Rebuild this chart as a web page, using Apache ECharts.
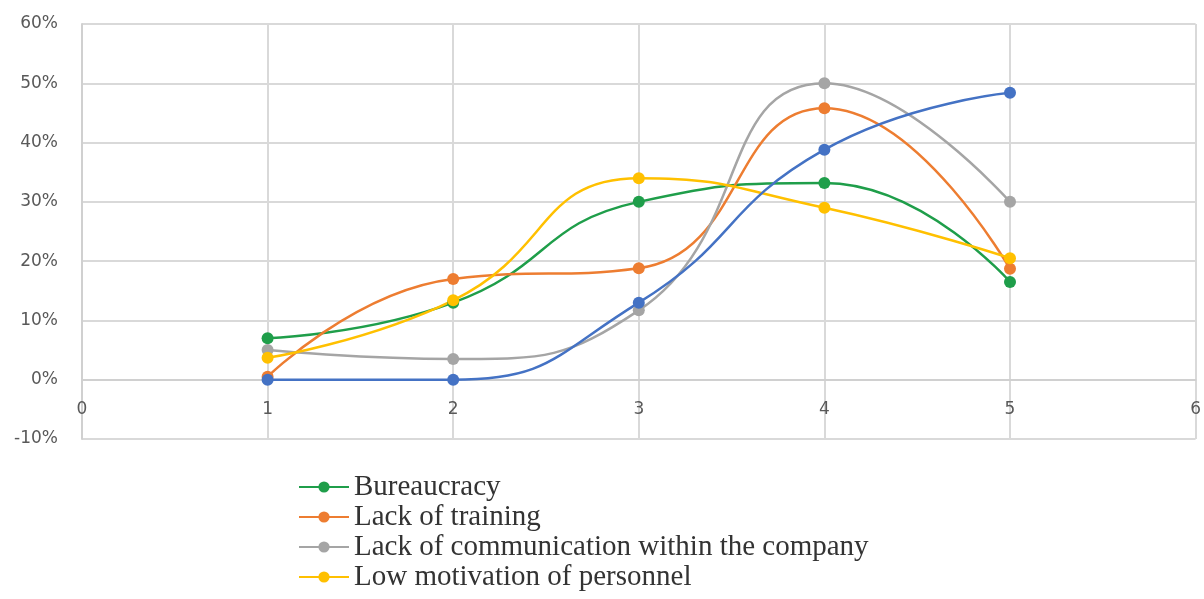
<!DOCTYPE html>
<html>
<head>
<meta charset="utf-8">
<script src="https://cdn.jsdelivr.net/npm/echarts@6/dist/echarts.min.js"></script>
<style>
	html, body { margin: 0; padding: 0; background: #fff; }
	#chart { width: 1204px; height: 599px; }
</style>
</head>
<body>
<div id="chart"></div>
<script>
// x positions of the points
var xs = [1, 2, 3, 4, 5];
// series values (fractions)
var bureaucracy = [0.07, 0.13, 0.30, 0.332, 0.165];
var lackTraining = [0.005, 0.17, 0.188, 0.458, 0.187];
var lackCommunication = [0.05, 0.035, 0.117, 0.50, 0.30];
var lowMotivation = [0.037, 0.134, 0.34, 0.29, 0.205];
var unnamedBlue = [0.0, 0.0, 0.13, 0.388, 0.484];

var names = ['Bureaucracy', 'Lack of training', 'Lack of communication within the company', 'Low motivation of personnel'];
var colors = ['#1f9e4a', '#ed7d31', '#a5a5a5', '#ffc000', '#4472c4'];

var gridTop = 24, gridBottom = 160, chartH = 599;
var yMin = -0.1, yMax = 0.6;
// shift of the x axis from the bottom edge up to the 0% line
var zeroShift = (chartH - gridTop - gridBottom) * (0 - yMin) / (yMax - yMin);

function pairs(vals) {
	var out = [];
	for (var i = 0; i < xs.length; i++) {
		out.push([xs[i], vals[i]]);
	}
	return out;
}

function lineSeries(name, vals, color) {
	return {
		name : name,
		type : 'line',
		smooth : 0.5,
		symbol : 'circle',
		symbolSize : 12,
		data : pairs(vals),
		lineStyle : { color : color, width : 2.5 },
		itemStyle : { color : color }
	};
}

var chart = echarts.init(document.getElementById('chart'));
var option = {
	backgroundColor : '#fff',
	animation : false,
	grid : {
		left : 82,
		right : 6,
		top : gridTop,
		bottom : gridBottom
	},
	legend : {
		orient : 'vertical',
		left : 298,
		top : 472,
		padding : 0,
		itemWidth : 50,
		itemHeight : 14,
		itemGap : 0,
		data : names,
		textStyle : {
			fontFamily : 'Liberation Serif',
			fontSize : 29,
			lineHeight : 30,
			color : '#333'
		}
	},
	xAxis : {
		type : 'value',
		min : 0,
		max : 6,
		interval : 1,
		offset : -zeroShift,
		axisLine : { show : true, onZero : false, lineStyle : { color : '#d0d0d0', width : 2 } },
		axisTick : { show : false },
		axisLabel : { color : '#595959', fontSize : 17, margin : 21, fontFamily : 'DejaVu Sans' },
		splitLine : { show : true, lineStyle : { color : '#d9d9d9', width : 2 } }
	},
	yAxis : {
		type : 'value',
		min : yMin,
		max : yMax,
		interval : 0.1,
		axisLine : { show : true, onZero : false, lineStyle : { color : '#d0d0d0', width : 2 } },
		axisTick : { show : false },
		axisLabel : {
			color : '#595959',
			fontSize : 17,
			margin : 24,
			fontFamily : 'DejaVu Sans',
			formatter : function(v) { return Math.round(v * 100) + '%'; }
		},
		splitLine : { show : true, lineStyle : { color : '#d9d9d9', width : 2 } }
	},
	series : [
		lineSeries(names[0], bureaucracy, colors[0]),
		lineSeries(names[1], lackTraining, colors[1]),
		lineSeries(names[2], lackCommunication, colors[2]),
		lineSeries(names[3], lowMotivation, colors[3]),
		lineSeries('Series 5', unnamedBlue, colors[4])
	]
};
chart.setOption(option);
</script>
</body>
</html>
